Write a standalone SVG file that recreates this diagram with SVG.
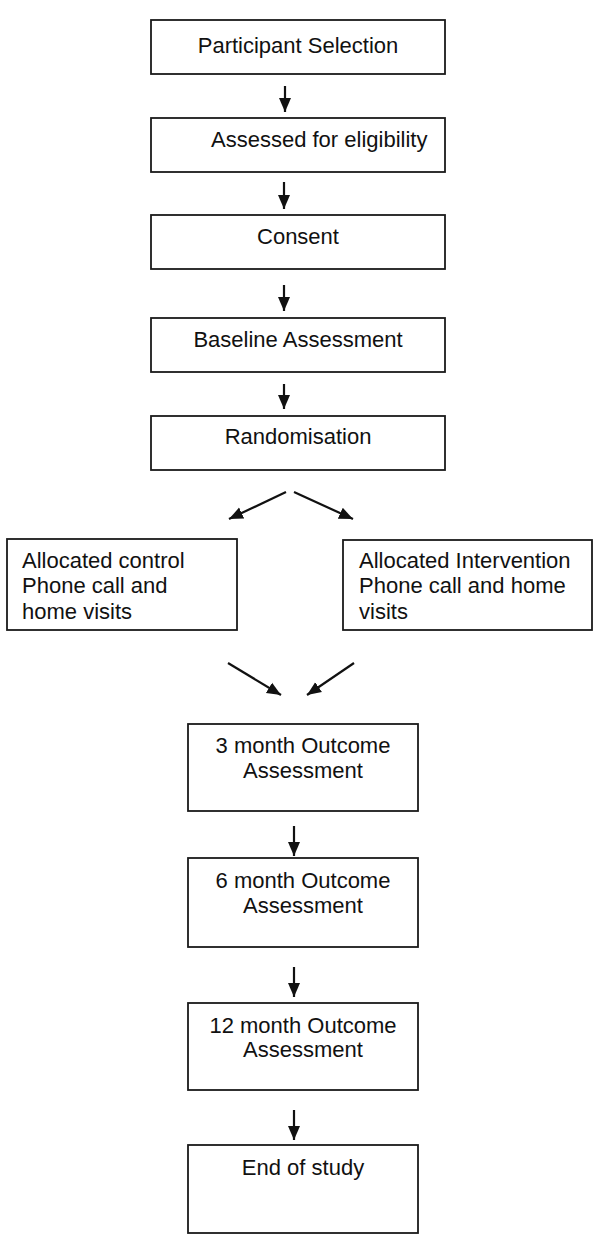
<svg xmlns="http://www.w3.org/2000/svg" width="600" height="1242" viewBox="0 0 600 1242">
<style>
.box{fill:#fff;stroke:#1a1a1a;stroke-width:1.8}
.t{font-family:"Liberation Sans",Arial,sans-serif;font-size:22px;fill:#111}
.c{text-anchor:middle}
.con line{stroke:#111;stroke-width:2.2;marker-end:url(#ah)}
</style>
<defs>
<marker id="ah" markerUnits="userSpaceOnUse" markerWidth="16" markerHeight="16" viewBox="0 0 16 16" refX="14" refY="8" orient="auto">
<path d="M0,2 L14,8 L0,14 Z" fill="#111"/>
</marker>
</defs>
<rect width="600" height="1242" fill="#fff"/>
<g id="n1"><rect class="box" x="151" y="20" width="294" height="54"/><text class="t c" x="298" y="53">Participant Selection</text></g>
<g id="n2"><rect class="box" x="151" y="118" width="294" height="54"/><text class="t" x="211" y="147">Assessed for eligibility</text></g>
<g id="n3"><rect class="box" x="151" y="215" width="294" height="54"/><text class="t c" x="298" y="244">Consent</text></g>
<g id="n4"><rect class="box" x="151" y="318" width="294" height="54"/><text class="t c" x="298" y="347">Baseline Assessment</text></g>
<g id="n5"><rect class="box" x="151" y="416" width="294" height="54"/><text class="t c" x="298" y="444">Randomisation</text></g>
<g id="n6"><rect class="box" x="7" y="539" width="230" height="91"/><text class="t" x="22" y="568">Allocated control</text><text class="t" x="22" y="593">Phone call and</text><text class="t" x="22" y="619">home visits</text></g>
<g id="n7"><rect class="box" x="343" y="540" width="249" height="90"/><text class="t" x="359" y="568">Allocated Intervention</text><text class="t" x="359" y="593">Phone call and home</text><text class="t" x="359" y="619">visits</text></g>
<g id="n8"><rect class="box" x="188" y="724" width="230" height="87"/><text class="t c" x="303" y="753">3 month Outcome</text><text class="t c" x="303" y="778">Assessment</text></g>
<g id="n9"><rect class="box" x="188" y="858" width="230" height="89"/><text class="t c" x="303" y="888">6 month Outcome</text><text class="t c" x="303" y="913">Assessment</text></g>
<g id="n10"><rect class="box" x="188" y="1003" width="230" height="87"/><text class="t c" x="303" y="1033">12 month Outcome</text><text class="t c" x="303" y="1057">Assessment</text></g>
<g id="n11"><rect class="box" x="188" y="1145" width="230" height="88"/><text class="t c" x="303" y="1175">End of study</text></g>
<g class="con" id="connectors">
<line x1="285" y1="86" x2="285" y2="112"/>
<line x1="284" y1="182" x2="284" y2="209"/>
<line x1="284" y1="285" x2="284" y2="311"/>
<line x1="284" y1="384" x2="284" y2="409"/>
<line x1="286" y1="492" x2="229" y2="519"/>
<line x1="294" y1="492" x2="353" y2="519"/>
<line x1="228" y1="663" x2="281" y2="695"/>
<line x1="354" y1="663" x2="307" y2="695"/>
<line x1="294" y1="826" x2="294" y2="856"/>
<line x1="294" y1="967" x2="294" y2="997"/>
<line x1="294" y1="1110" x2="294" y2="1140"/>
</g>
</svg>
